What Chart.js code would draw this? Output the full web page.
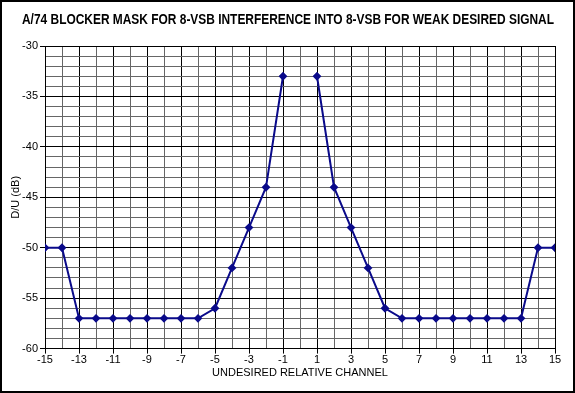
<!DOCTYPE html>
<html>
<head>
<meta charset="utf-8">
<script src="https://cdn.jsdelivr.net/npm/chart.js@4"></script>
<style>
  html, body { margin: 0; padding: 0; background: #fff; }
  #wrap { width: 575px; height: 393px; position: relative; }
</style>
</head>
<body>
<div id="wrap"><canvas id="maskChart" width="575" height="393"></canvas></div>
<script>
// channel offsets and D/U mask (dB); no value at channel 0
const channels = [-15, -14, -13, -12, -11, -10, -9, -8, -7, -6, -5, -4, -3, -2, -1, 0,
                  1, 2, 3, 4, 5, 6, 7, 8, 9, 10, 11, 12, 13, 14, 15];
const duValues = [-50, -50, -57, -57, -57, -57, -57, -57, -57, -57, -56, -52, -48, -44, -33, null,
                  -33, -44, -48, -52, -56, -57, -57, -57, -57, -57, -57, -57, -57, -50, -50];
const chartTitle = 'A/74 BLOCKER MASK FOR 8-VSB INTERFERENCE INTO 8-VSB FOR WEAK DESIRED SIGNAL';
const xTitle = 'UNDESIRED RELATIVE CHANNEL';
const yTitle = 'D/U (dB)';

const fontFamily = '"Liberation Sans", Arial, sans-serif';
const points = channels.map((c, i) => ({ x: c, y: duValues[i] }));

// outer frame + title text (title drawn by hand so it can sit centred on the page)
const frame = {
  id: 'frame',
  afterDraw(chart) {
    const ctx = chart.ctx;
    ctx.save();
    ctx.strokeStyle = '#000';
    ctx.lineWidth = 2;
    ctx.strokeRect(1, 1, chart.width - 2, chart.height - 2);
    ctx.fillStyle = '#000';
    ctx.font = 'bold 14px ' + fontFamily;
    ctx.textAlign = 'center';
    ctx.textBaseline = 'middle';
    ctx.fillText(chartTitle, 288, 20, 532);
    ctx.restore();
  }
};

const ctx = document.getElementById('maskChart').getContext('2d');
new Chart(ctx, {
  type: 'line',
  data: {
    datasets: [{
      data: points,
      borderColor: '#0a0a8a',
      backgroundColor: '#0a0a8a',
      borderWidth: 2,
      pointStyle: 'rectRot',
      pointRadius: 3,
      spanGaps: false,
      tension: 0
    }]
  },
  options: {
    responsive: false,
    animation: false,
    layout: { padding: { left: 4, right: 20, top: 46, bottom: 13 } },
    plugins: {
      legend: { display: false },
      tooltip: { enabled: false },
      title: { display: false }
    },
    scales: {
      x: {
        type: 'linear',
        min: -15,
        max: 15,
        border: { color: '#000', width: 1 },
        grid: {
          color: c => (Math.abs(c.tick.value) % 2 === 1 ? '#000' : '#666'),
          tickColor: c => (Math.abs(c.tick.value) % 2 === 1 ? '#000' : 'rgba(0,0,0,0)'),
          tickLength: 5
        },
        ticks: {
          stepSize: 1,
          autoSkip: false,
          maxRotation: 0,
          color: '#000',
          padding: 0,
          font: { family: fontFamily, size: 11 },
          callback: v => (Math.abs(v) % 2 === 1 ? String(v) : '')
        },
        title: {
          display: true,
          text: xTitle,
          color: '#000',
          padding: { top: 0, bottom: 0 },
          font: { family: fontFamily, size: 11 }
        }
      },
      y: {
        min: -60,
        max: -30,
        border: { color: '#000', width: 1 },
        grid: {
          color: c => (c.tick.value % 5 === 0 ? '#000' : '#666'),
          tickColor: c => (c.tick.value % 5 === 0 ? '#000' : 'rgba(0,0,0,0)'),
          tickLength: 5
        },
        ticks: {
          stepSize: 1,
          autoSkip: false,
          color: '#000',
          padding: 2,
          font: { family: fontFamily, size: 11 },
          callback: v => (v % 5 === 0 ? String(v) : '')
        },
        title: {
          display: true,
          text: yTitle,
          color: '#000',
          padding: { top: 5, bottom: 0 },
          font: { family: fontFamily, size: 11 }
        },
        afterFit: s => { s.width = 41; }
      }
    }
  },
  plugins: [frame]
});
</script>
</body>
</html>
